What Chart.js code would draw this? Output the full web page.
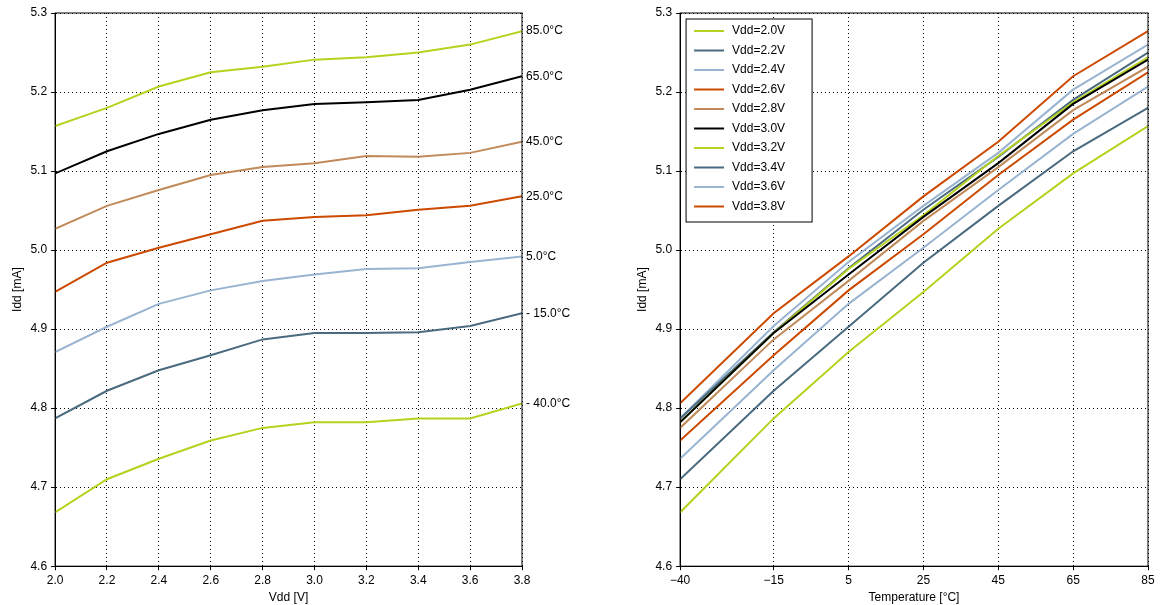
<!DOCTYPE html>
<html><head><meta charset="utf-8">
<script src="https://cdn.jsdelivr.net/npm/chart.js@4/dist/chart.umd.min.js"></script>
<style>
body{margin:0;background:#fff;}
#wrap{position:relative;width:1160px;height:605px;}
.box{position:absolute;top:0;height:605px;}
</style></head><body>
<div id="wrap">
  <div class="box" style="left:0;width:600px;"><canvas id="left"></canvas></div>
  <div class="box" style="left:620px;width:540px;"><canvas id="right"></canvas></div>
</div>
<script>
const vdd = [2.0, 2.2, 2.4, 2.6, 2.8, 3.0, 3.2, 3.4, 3.6, 3.8];
const temps = [85, 65, 45, 25, 5, -15, -40];
const tempTicks = [-40, -15, 5, 25, 45, 65, 85];
// Idd [mA] per temperature, across vdd
const idd85 = [5.157, 5.180, 5.207, 5.225, 5.232, 5.241, 5.244, 5.250, 5.260, 5.277];
const idd65 = [5.097, 5.125, 5.147, 5.165, 5.177, 5.185, 5.187, 5.190, 5.203, 5.220];
const idd45 = [5.027, 5.056, 5.076, 5.095, 5.105, 5.110, 5.119, 5.118, 5.123, 5.137];
const idd25 = [4.947, 4.984, 5.003, 5.020, 5.037, 5.042, 5.044, 5.051, 5.056, 5.068];
const idd5 = [4.871, 4.903, 4.932, 4.949, 4.961, 4.969, 4.976, 4.977, 4.985, 4.992];
const iddM15 = [4.787, 4.822, 4.848, 4.867, 4.887, 4.895, 4.895, 4.896, 4.904, 4.920];
const iddM40 = [4.668, 4.710, 4.736, 4.759, 4.775, 4.782, 4.782, 4.787, 4.787, 4.806];

const rows = [idd85, idd65, idd45, idd25, idd5, iddM15, iddM40];
const palette = ['#b5d31e', '#4a6a7f', '#98b4d0', '#cc4a00', '#c08a5a', '#000000'];
const leftColors = ['#b5d31e', '#000000', '#c08a5a', '#cc4a00', '#98b4d0', '#4a6a7f', '#b5d31e'];
const FONT = 'Liberation Sans';

Chart.defaults.font.family = FONT;
Chart.defaults.font.size = 12;
Chart.defaults.color = '#000';

const gridOpts = { color: '#000', lineWidth: 1, drawTicks: true, tickLength: 4 };
const borderOpts = { display: true, color: '#000', dash: [1, 3] };

const frame = {
    id: 'frame',
    afterDraw(chart) {
        const a = chart.chartArea, c = chart.ctx;
        c.save(); c.strokeStyle = '#000'; c.lineWidth = 1;
        c.strokeRect(a.left, a.top, a.right - a.left, a.bottom - a.top);
        c.restore();
    }
};

const endLabels = {
    id: 'endLabels',
    afterDraw(chart) {
        const c = chart.ctx, y = chart.scales.y, a = chart.chartArea;
        c.save(); c.font = '12px ' + FONT; c.fillStyle = '#000'; c.textBaseline = 'middle';
        chart.data.datasets.forEach(ds => {
            const v = ds.data[ds.data.length - 1].y;
            const txt = ds.label.replace('-', '- ');
            c.fillText(txt, a.right + 4, y.getPixelForValue(v));
        });
        c.restore();
    }
};

const boxLegend = {
    id: 'boxLegend',
    afterDraw(chart) {
        const c = chart.ctx, a = chart.chartArea;
        const x0 = a.left + 6, y0 = a.top + 6, lh = 19.5, w = 126;
        const n = chart.data.datasets.length;
        c.save();
        c.fillStyle = '#fff'; c.strokeStyle = '#000'; c.lineWidth = 1;
        c.fillRect(x0, y0, w, n * lh + 8); c.strokeRect(x0, y0, w, n * lh + 8);
        c.font = '12px ' + FONT; c.textBaseline = 'middle';
        chart.data.datasets.forEach((ds, i) => {
            const yy = y0 + 12 + i * lh;
            c.strokeStyle = ds.borderColor; c.lineWidth = 2;
            c.beginPath(); c.moveTo(x0 + 8, yy); c.lineTo(x0 + 38, yy); c.stroke();
            c.fillStyle = '#000'; c.fillText(ds.label, x0 + 46, yy);
        });
        c.restore();
    }
};

function yAxis() {
    return {
        min: 4.6, max: 5.3,
        ticks: { stepSize: 0.1, callback: v => v.toFixed(1), padding: 4 },
        grid: gridOpts, border: borderOpts,
        title: { display: true, text: 'Idd [mA]', padding: 2 }
    };
}

new Chart(document.getElementById('left'), {
    type: 'line',
    data: {
        datasets: rows.map((r, i) => ({
            label: temps[i].toFixed(1) + '°C',
            data: r.map((v, j) => ({ x: vdd[j], y: v })),
            borderColor: leftColors[i], borderWidth: 2, pointRadius: 0, tension: 0
        }))
    },
    options: {
        responsive: true, maintainAspectRatio: false, animation: false,
        layout: { padding: { top: 13, right: 78, bottom: 0, left: 8 } },
        plugins: { legend: { display: false }, tooltip: { enabled: false } },
        scales: {
            x: {
                type: 'linear', min: 2.0, max: 3.8,
                ticks: { stepSize: 0.2, callback: v => v.toFixed(1), maxRotation: 0 },
                grid: gridOpts, border: borderOpts,
                title: { display: true, text: 'Vdd [V]', padding: 0 }
            },
            y: yAxis()
        }
    },
    plugins: [frame, endLabels]
});

new Chart(document.getElementById('right'), {
    type: 'line',
    data: {
        datasets: vdd.map((v, j) => ({
            label: 'Vdd=' + v.toFixed(1) + 'V',
            data: temps.map((t, i) => ({ x: t, y: rows[i][j] })).reverse(),
            borderColor: palette[j % palette.length], borderWidth: 2, pointRadius: 0, tension: 0
        }))
    },
    options: {
        responsive: true, maintainAspectRatio: false, animation: false,
        layout: { padding: { top: 13, right: 12, bottom: 0, left: 13 } },
        plugins: { legend: { display: false }, tooltip: { enabled: false } },
        scales: {
            x: {
                type: 'linear', min: -40, max: 85,
                afterBuildTicks: s => { s.ticks = tempTicks.map(v => ({ value: v })); },
                ticks: { callback: v => (v < 0 ? '\u2212' + Math.abs(v) : String(v)), maxRotation: 0 },
                grid: gridOpts, border: borderOpts,
                title: { display: true, text: 'Temperature [°C]', padding: 0 }
            },
            y: yAxis()
        }
    },
    plugins: [frame, boxLegend]
});
</script>
</body></html>
